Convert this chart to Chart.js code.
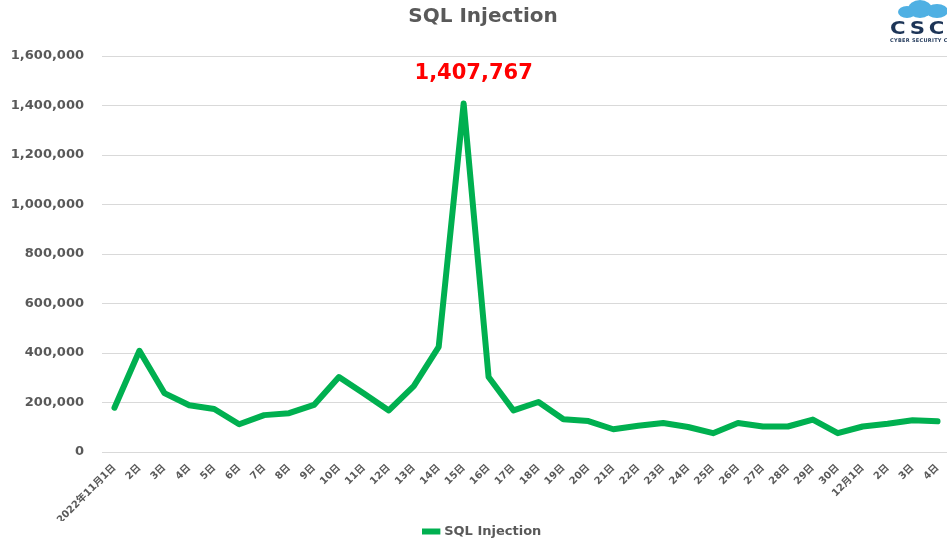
<!DOCTYPE html>
<html>
<head>
<meta charset="utf-8">
<script src="https://cdn.jsdelivr.net/npm/chart.js@4"></script>
<style>
    html, body { margin: 0; padding: 0; background: #fff; overflow: hidden; }
    .wrap { position: relative; width: 966px; height: 548px; }
    .logo { position: absolute; left: 888px; top: 0; width: 70px; height: 48px; }
    .cloud { position: absolute; background: #4fb0e3; border-radius: 50%; }
    .logo-text { position: absolute; left: 2px; top: 18px; font: bold 17px "DejaVu Sans", sans-serif; color: #1d3557; letter-spacing: 3px; transform: scaleX(1.25); transform-origin: left; }
    .logo-sub { position: absolute; left: 2px; top: 37px; font: bold 5px "DejaVu Sans", sans-serif; color: #1d3557; white-space: nowrap; letter-spacing: 0.3px; }
</style>
</head>
<body>
<div class="wrap">
    <canvas id="sqlChart" width="966" height="548"></canvas>
    <div class="logo">
        <div class="cloud" style="left:10px;top:6px;width:18px;height:12px;"></div>
        <div class="cloud" style="left:20px;top:0px;width:24px;height:18px;"></div>
        <div class="cloud" style="left:38px;top:4px;width:22px;height:14px;"></div>
        <div class="logo-text">CSC</div>
        <div class="logo-sub">CYBER SECURITY CLOUD</div>
    </div>
</div>
<script>
// ===== DATA =====
const dayLabels = [
    '2022年11月1日', '2日', '3日', '4日', '5日', '6日', '7日', '8日', '9日', '10日',
    '11日', '12日', '13日', '14日', '15日', '16日', '17日', '18日', '19日', '20日',
    '21日', '22日', '23日', '24日', '25日', '26日', '27日', '28日', '29日', '30日',
    '12月1日', '2日', '3日', '4日'
];
const sqlInjection = [
    179000, 409000, 238000, 189000, 174000, 112000, 149000, 157000, 190000, 303000,
    236000, 168000, 266000, 425000, 1407767, 303000, 168000, 202000, 132000, 125000,
    92000, 106000, 117000, 101000, 76000, 117000, 103000, 103000, 131000, 76000,
    103000, 114000, 128000, 124000
];
const yTicks = [0, 200000, 400000, 600000, 800000, 1000000, 1200000, 1400000, 1600000];

const textGray = '#595959';
const lineGreen = '#00b050';
const fontFamily = '"DejaVu Sans", "Noto Sans CJK JP", sans-serif';

// Peak value label drawn above the highest point
const peakLabel = {
    id: 'peakLabel',
    afterLayout(chart) {
        // let the y tick labels spill into the left padding without clipping
        chart.scales.y.left = 0;
    },
    afterDatasetsDraw(chart) {
        const meta = chart.getDatasetMeta(0);
        const values = chart.data.datasets[0].data;
        const idx = values.indexOf(Math.max(...values));
        const pt = meta.data[idx];
        const ctx = chart.ctx;
        ctx.save();
        ctx.font = 'bold 21px ' + fontFamily;
        ctx.fillStyle = '#ff0000';
        ctx.textAlign = 'center';
        ctx.textBaseline = 'middle';
        ctx.fillText(values[idx].toLocaleString('en-US'), pt.x + 10, pt.y - 30);
        ctx.restore();
    }
};

new Chart(document.getElementById('sqlChart'), {
    type: 'line',
    data: {
        labels: dayLabels,
        datasets: [{
            label: 'SQL Injection',
            data: sqlInjection,
            borderColor: lineGreen,
            backgroundColor: lineGreen,
            borderWidth: 6,
            borderCapStyle: 'round',
            borderJoinStyle: 'round',
            pointRadius: 0,
            tension: 0
        }]
    },
    options: {
        responsive: false,
        animation: false,
        layout: { padding: { left: 16, right: 16, top: 0, bottom: 0 } },
        plugins: {
            title: {
                display: true,
                text: 'SQL Injection',
                color: textGray,
                font: { family: fontFamily, size: 20, weight: 'bold' },
                padding: { top: 5, bottom: 27 }
            },
            legend: {
                position: 'bottom',
                labels: {
                    color: textGray,
                    font: { family: fontFamily, size: 13, weight: 'bold' },
                    usePointStyle: true,
                    pointStyle: 'line',
                    boxWidth: 26,
                    padding: 4
                }
            },
            tooltip: { enabled: false }
        },
        scales: {
            x: {
                offset: true,
                grid: { display: false },
                border: { display: false },
                ticks: {
                    color: textGray,
                    font: { family: fontFamily, size: 10, weight: 'bold' },
                    minRotation: 45,
                    maxRotation: 45,
                    autoSkip: false,
                    padding: 2
                },
                afterFit(scale) { scale.height = 69; }
            },
            y: {
                min: 0,
                max: 1600000,
                afterBuildTicks(scale) { scale.ticks = yTicks.map(v => ({ value: v })); },
                grid: { color: '#d9d9d9', lineWidth: 1, drawTicks: false },
                border: { display: false },
                ticks: {
                    color: textGray,
                    font: { family: fontFamily, size: 13, weight: 'bold' },
                    padding: 18,
                    callback: v => v.toLocaleString('en-US')
                },
                afterFit(scale) { scale.width = 86; }
            }
        }
    },
    plugins: [peakLabel]
});
</script>
</body>
</html>
